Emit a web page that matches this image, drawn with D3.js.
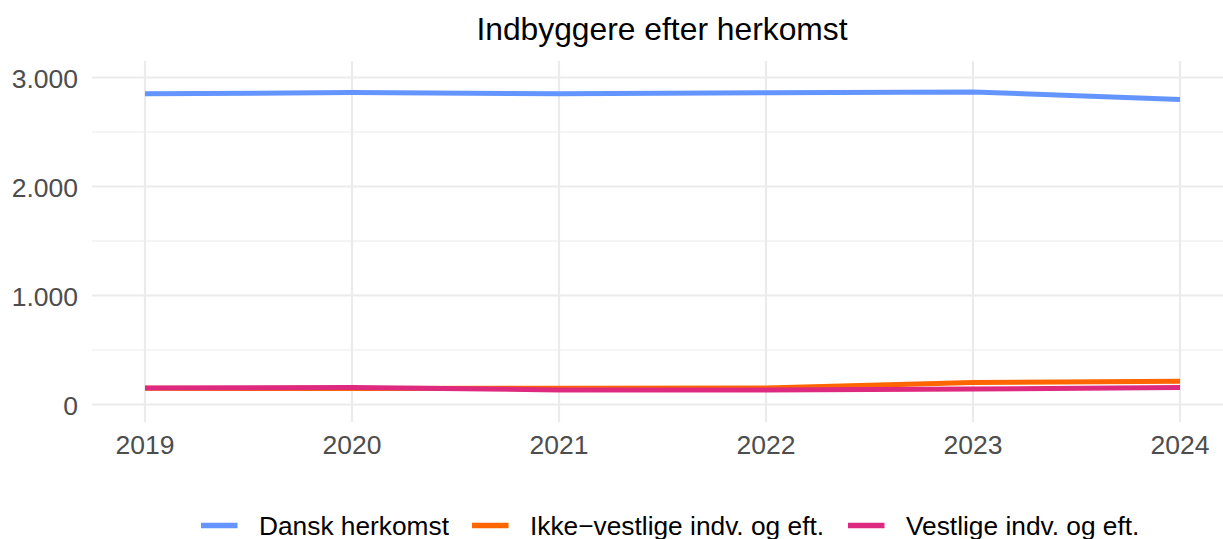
<!DOCTYPE html>
<html><head><meta charset="utf-8">
<script src="https://cdn.jsdelivr.net/npm/d3@7"></script>
<style>body{margin:0;background:#fff}svg{display:block}text{font-family:"Liberation Sans",Arial,sans-serif}</style>
</head><body><svg id="c" width="1223" height="539"></svg>
<script>
const years = [2019, 2020, 2021, 2022, 2023, 2024];
const dansk = [2850, 2862, 2850, 2860, 2868, 2798];
const ikkeVestlige = [150, 146, 150, 152, 202, 214];
const vestlige = [152, 156, 134, 134, 143, 155];
const seriesNames = ["Dansk herkomst", "Ikke\u2212vestlige indv. og eft.", "Vestlige indv. og eft."];
const seriesColors = ["#6495FF", "#FF6600", "#DE2A7E"];
const yTicks = [0, 1000, 2000, 3000];
const yMinor = [500, 1500, 2500];

const svg = d3.select("#c");
const x = d3.scaleLinear().domain([2019, 2024]).range([145, 1180]);
const y = d3.scaleLinear().domain([0, 3000]).range([404.5, 77.5]);
const fmt = v => d3.format(",")(v).replace(/,/g, ".");

const g = svg.append("g");
g.selectAll(".ym").data(yMinor).join("line").attr("x1", 92).attr("x2", 1223)
  .attr("y1", d => y(d)).attr("y2", d => y(d)).attr("stroke", "#ebebeb").attr("stroke-width", 1.1);
g.selectAll(".yM").data(yTicks).join("line").attr("x1", 92).attr("x2", 1223)
  .attr("y1", d => y(d)).attr("y2", d => y(d)).attr("stroke", "#ebebeb").attr("stroke-width", 2.2);
g.selectAll(".xg").data(years).join("line").attr("y1", 61).attr("y2", 422)
  .attr("x1", d => x(d)).attr("x2", d => x(d)).attr("stroke", "#ebebeb").attr("stroke-width", 2.2);

svg.selectAll(".yl").data(yTicks).join("text").attr("x", 78).attr("y", d => y(d) + 10)
  .attr("text-anchor", "end").attr("font-size", 26.5).attr("fill", "#4d4d4d").text(fmt);
svg.selectAll(".xl").data(years).join("text").attr("x", d => x(d)).attr("y", 454)
  .attr("text-anchor", "middle").attr("font-size", 26.5).attr("fill", "#4d4d4d").text(d => d);

svg.append("text").attr("x", 662).attr("y", 40).attr("text-anchor", "middle")
  .attr("font-size", 31.8).attr("fill", "#000").text("Indbyggere efter herkomst");

const line = d3.line().x((d, i) => x(years[i])).y(d => y(d));
[dansk, ikkeVestlige, vestlige].forEach((s, k) => {
  svg.append("path").datum(s).attr("d", line).attr("fill", "none")
    .attr("stroke", seriesColors[k]).attr("stroke-width", 5);
});

const legX = [201, 472, 848];
const leg = svg.selectAll(".lg").data(seriesNames).join("g");
leg.append("line").attr("x1", (d, i) => legX[i]).attr("x2", (d, i) => legX[i] + 36.5)
  .attr("y1", 525.5).attr("y2", 525.5).attr("stroke", (d, i) => seriesColors[i]).attr("stroke-width", 5.5);
leg.append("text").attr("x", (d, i) => legX[i] + 58).attr("y", 535).attr("font-size", 26.3)
  .attr("fill", "#000").text(d => d);
</script></body></html>
